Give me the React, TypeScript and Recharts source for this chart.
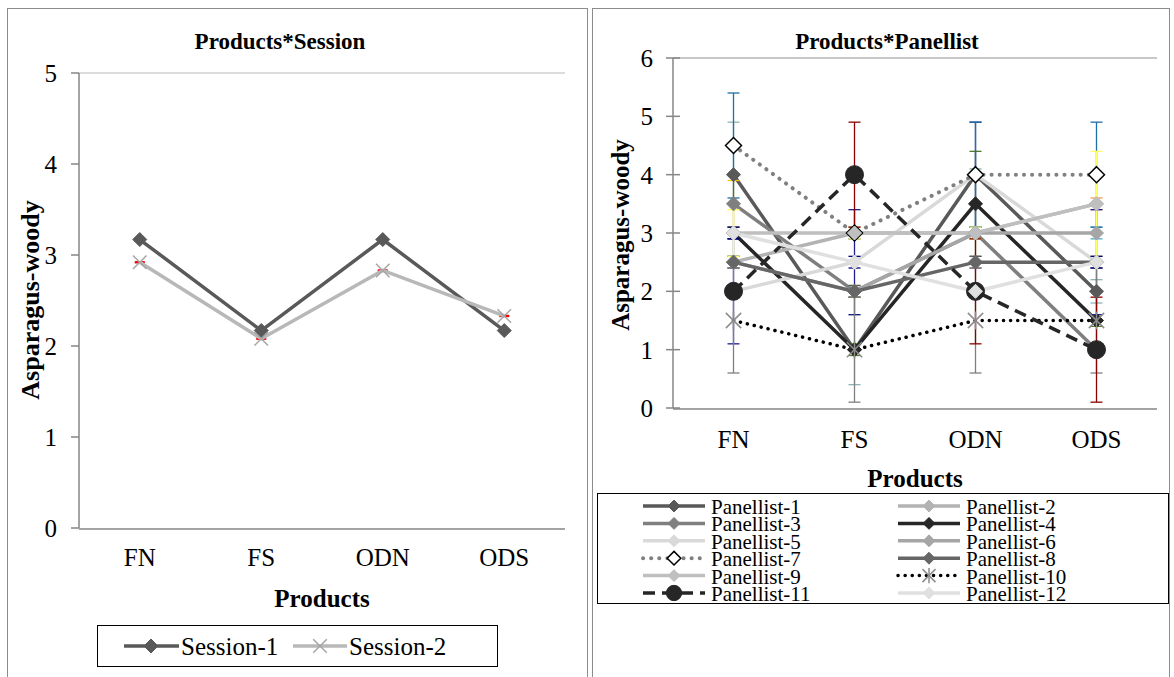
import React from "react";
import { LineChart, Line, XAxis, YAxis, ErrorBar, ReferenceLine } from "recharts";

const FONT = '"Liberation Serif", "Times New Roman", serif';

// categories
const products = ["FN", "FS", "ODN", "ODS"];

// Products*Session
const session1 = [3.17, 2.17, 3.17, 2.17];
const session2 = [2.92, 2.08, 2.83, 2.33];
const session2Err = [0.005, 0.005, 0.005, 0.005];
const sessionTicks = [0, 1, 2, 3, 4, 5];

// Products*Panellist (FN, FS, ODN, ODS)
const panellist1 = [4, 1, 4, 2];
const panellist2 = [2.5, 3, 3, 3.5];
const panellist3 = [3.5, 2, 3, 1];
const panellist4 = [3, 1, 3.5, 1.5];
const panellist5 = [2, 2.5, 4, 2.5];
const panellist6 = [2.5, 2, 3, 3];
const panellist7 = [4.5, 3, 4, 4];
const panellist8 = [2.5, 2, 2.5, 2.5];
const panellist9 = [3, 3, 3, 3.5];
const panellist10 = [1.5, 1, 1.5, 1.5];
const panellist11 = [2, 4, 2, 1];
const panellist12 = [3, 2.5, 2, 2.5];

// error bar half-lengths
const err1 = [0.9, 0.6, 0.1, 0.2];
const err2 = [0.1, 0.1, 0.1, 0.1];
const err3 = [0.4, 0.1, 0.1, 0.1];
const err4 = [0.1, 0.1, 0.9, 0.1];
const err5 = [0.9, 0.9, 0.9, 0.9];
const err6 = [0.1, 0.1, 0.1, 0.1];
const err7 = [0.9, 0.1, 0.9, 0.9];
const err8 = [0.1, 0.1, 0.1, 0.1];
const err9 = [0.4, 0.1, 0.1, 0.9];
const err10 = [0.9, 0.9, 0.9, 0.9];
const err11 = [0.1, 0.9, 0.9, 0.9];
const err12 = [0.1, 0.1, 0.1, 0.1];
const panelTicks = [0, 1, 2, 3, 4, 5, 6];

const panelValues = [
  panellist1, panellist2, panellist3, panellist4, panellist5, panellist6,
  panellist7, panellist8, panellist9, panellist10, panellist11, panellist12,
];
const panelErrors = [err1, err2, err3, err4, err5, err6, err7, err8, err9, err10, err11, err12];

const sessionData = products.map((p, i) => ({
  product: p,
  s1: session1[i],
  s2: session2[i],
  s2e: session2Err[i],
}));

const panelData = products.map((p, i) => {
  const row: any = { product: p };
  panelValues.forEach((vals, k) => {
    row[`p${k + 1}`] = vals[i];
    row[`e${k + 1}`] = panelErrors[k][i];
  });
  return row;
});

type Style = {
  name: string;
  color: string;
  width: number;
  dash?: string;
  cap?: "round" | "butt";
  marker: string;
  mFill: string;
  mStroke: string;
  size: number;
  err: string;
};

const panelStyles: Style[] = [
  { name: "Panellist-1", color: "#595959", width: 3.5, marker: "diamond", mFill: "#595959", mStroke: "#595959", size: 7, err: "#8db3b3" },
  { name: "Panellist-2", color: "#b3b3b3", width: 3.5, marker: "diamond", mFill: "#b3b3b3", mStroke: "#b3b3b3", size: 7, err: "#f79646" },
  { name: "Panellist-3", color: "#7f7f7f", width: 3.5, marker: "diamond", mFill: "#7f7f7f", mStroke: "#7f7f7f", size: 7, err: "#ffc000" },
  { name: "Panellist-4", color: "#262626", width: 3.5, marker: "diamond", mFill: "#262626", mStroke: "#262626", size: 7, err: "#4f7a28" },
  { name: "Panellist-5", color: "#d9d9d9", width: 3.5, marker: "diamond", mFill: "#d9d9d9", mStroke: "#d9d9d9", size: 7, err: "#1f1f8f" },
  { name: "Panellist-6", color: "#a6a6a6", width: 3.5, marker: "diamond", mFill: "#a6a6a6", mStroke: "#a6a6a6", size: 7, err: "#4bacc6" },
  { name: "Panellist-7", color: "#808080", width: 4, dash: "0.1 8", cap: "round", marker: "open", mFill: "#ffffff", mStroke: "#000000", size: 8, err: "#1f6fa8" },
  { name: "Panellist-8", color: "#666666", width: 3.5, marker: "diamond", mFill: "#666666", mStroke: "#666666", size: 7, err: "#595959" },
  { name: "Panellist-9", color: "#bfbfbf", width: 3.5, marker: "diamond", mFill: "#bfbfbf", mStroke: "#bfbfbf", size: 7, err: "#ffff66" },
  { name: "Panellist-10", color: "#000000", width: 3.5, dash: "0.1 7", cap: "round", marker: "star", mFill: "none", mStroke: "#8c8c8c", size: 9, err: "#7f7f7f" },
  { name: "Panellist-11", color: "#262626", width: 3.5, dash: "12 7", marker: "circle", mFill: "#262626", mStroke: "#262626", size: 9, err: "#8b0000" },
  { name: "Panellist-12", color: "#e0e0e0", width: 3.5, marker: "diamond", mFill: "#e0e0e0", mStroke: "#e0e0e0", size: 7, err: "#000080" },
];

const Marker = ({ kind, x, y, fill, stroke, size }: any) => {
  if (kind === "diamond" || kind === "open") {
    return (
      <path
        d={`M${x},${y - size}L${x + size},${y}L${x},${y + size}L${x - size},${y}Z`}
        fill={fill}
        stroke={stroke}
        strokeWidth={kind === "open" ? 1.5 : 1}
      />
    );
  }
  if (kind === "circle") {
    return <circle cx={x} cy={y} r={size} fill={fill} stroke={stroke} />;
  }
  const s = size * 0.85;
  return (
    <g stroke={stroke} strokeWidth={1.5}>
      <line x1={x - s} y1={y - s} x2={x + s} y2={y + s} />
      <line x1={x - s} y1={y + s} x2={x + s} y2={y - s} />
      {kind === "star" && <line x1={x} y1={y - size} x2={x} y2={y + size} />}
    </g>
  );
};

const dotRenderer = (kind: string, fill: string, stroke: string, size: number) => (props: any) => {
  const { cx, cy, index } = props;
  const key = `m-${kind}-${index}`;
  if (cx == null || cy == null) return <g key={key} />;
  return (
    <g key={key}>
      <Marker kind={kind} x={cx} y={cy} fill={fill} stroke={stroke} size={size} />
    </g>
  );
};

const tickStyle = { fill: "#000", fontSize: 25, fontFamily: FONT };
const axisGray = { stroke: "#868686", strokeWidth: 1.5 };
const textStyle = { fontFamily: FONT };

const App = () => {
  return (
    <div style={{ position: "absolute", left: 0, top: 0, width: 1174, height: 677, background: "#fff", overflow: "hidden", fontFamily: FONT }}>
      {/* left chart */}
      <div style={{ position: "absolute", left: 0, top: 0 }}>
        <LineChart width={590} height={677} data={sessionData} margin={{ top: 73, right: 25, left: 0, bottom: 147 }}>
          <XAxis
            xAxisId="b"
            type="number"
            domain={[0, 4]}
            ticks={[0, 1, 2, 3, 4]}
            allowDataOverflow
            tick={false}
            height={1}
            tickSize={16}
            axisLine={axisGray}
            tickLine={{ ...axisGray, transform: "translate(0,-8)" }}
          />
          <XAxis
            dataKey="product"
            height={1}
            axisLine={false}
            tickLine={false}
            tickSize={0}
            tickMargin={20}
            interval={0}
            padding={{ left: 60.75, right: 60.75 }}
            tick={tickStyle}
          />
          <YAxis
            domain={[0, 5]}
            ticks={sessionTicks}
            width={79}
            tickSize={8}
            tickMargin={14}
            axisLine={axisGray}
            tickLine={axisGray}
            tick={tickStyle}
          />
          <ReferenceLine y={5} stroke="#d0d0d0" strokeWidth={1.5} />
          <ReferenceLine x={4} xAxisId="b" stroke="#d0d0d0" strokeWidth={1.5} />
          <Line
            dataKey="s1"
            stroke="#595959"
            strokeWidth={3.5}
            isAnimationActive={false}
            dot={dotRenderer("diamond", "#595959", "#595959", 7)}
          />
          <Line
            dataKey="s2"
            stroke="#b8b8b8"
            strokeWidth={3.5}
            isAnimationActive={false}
            dot={dotRenderer("x", "none", "#a6a6a6", 8)}
          >
            <ErrorBar dataKey="s2e" width={5} stroke="#ff0000" strokeWidth={1.5} direction="y" />
          </Line>
        </LineChart>
      </div>

      {/* right chart */}
      <div style={{ position: "absolute", left: 590, top: 0 }}>
        <LineChart width={584} height={677} data={panelData} margin={{ top: 58, right: 17, left: 0, bottom: 267 }}>
          <XAxis
            xAxisId="b"
            type="number"
            domain={[0, 4]}
            ticks={[0, 1, 2, 3, 4]}
            allowDataOverflow
            tick={false}
            height={1}
            tickSize={14}
            axisLine={axisGray}
            tickLine={{ ...axisGray, transform: "translate(0,-7)" }}
          />
          <XAxis
            dataKey="product"
            height={1}
            axisLine={false}
            tickLine={false}
            tickSize={0}
            tickMargin={22}
            interval={0}
            padding={{ left: 60.5, right: 60.5 }}
            tick={tickStyle}
          />
          <YAxis
            domain={[0, 6]}
            ticks={panelTicks}
            width={83}
            tickSize={14}
            tickMargin={6}
            axisLine={axisGray}
            tickLine={{ ...axisGray, transform: "translate(7,0)" }}
            tick={tickStyle}
          />
          <ReferenceLine y={6} stroke="#c8c8c8" strokeWidth={2} />
          <ReferenceLine x={4} xAxisId="b" stroke="#c8c8c8" strokeWidth={2} />
          {panelStyles.map((s, k) => (
            <Line
              key={s.name}
              dataKey={`p${k + 1}`}
              name={s.name}
              stroke={s.color}
              strokeWidth={s.width}
              strokeDasharray={s.dash}
              strokeLinecap={s.cap || "butt"}
              isAnimationActive={false}
              dot={dotRenderer(s.marker, s.mFill, s.mStroke, s.size)}
            >
              <ErrorBar dataKey={`e${k + 1}`} width={6} stroke={s.err} strokeWidth={1.3} direction="y" />
            </Line>
          ))}
        </LineChart>
      </div>

      {/* frames, titles and legends */}
      <svg width={1174} height={677} style={{ position: "absolute", left: 0, top: 0, pointerEvents: "none", fontFamily: FONT }}>
        <rect x={7.5} y={8.5} width={580} height={700} fill="none" stroke="#8c8c8c" strokeWidth={1} />
        <rect x={592.5} y={8.5} width={577} height={700} fill="none" stroke="#8c8c8c" strokeWidth={1} />

        <text x={280} y={49} textAnchor="middle" fontSize={23} fontWeight="bold" style={textStyle}>Products*Session</text>
        <text x={30} y={300} textAnchor="middle" dominantBaseline="central" fontSize={26} fontWeight="bold" transform="rotate(-90 30 300)" style={textStyle}>Asparagus-woody</text>
        <text x={322} y={607} textAnchor="middle" fontSize={25} fontWeight="bold" style={textStyle}>Products</text>

        <text x={887} y={49} textAnchor="middle" fontSize={23} fontWeight="bold" style={textStyle}>Products*Panellist</text>
        <text x={620} y={235} textAnchor="middle" dominantBaseline="central" fontSize={25} fontWeight="bold" transform="rotate(-90 620 235)" style={textStyle}>Asparagus-woody</text>
        <text x={915} y={487} textAnchor="middle" fontSize={25} fontWeight="bold" style={textStyle}>Products</text>

        {/* left legend */}
        <rect x={97.5} y={625.5} width={400} height={41} fill="#fff" stroke="#000" strokeWidth={1} />
        <line x1={124} y1={646} x2={179} y2={646} stroke="#595959" strokeWidth={3.5} />
        <Marker kind="diamond" x={151} y={646} fill="#595959" stroke="#595959" size={7} />
        <text x={181} y={646} dominantBaseline="central" fontSize={25} style={textStyle}>Session-1</text>
        <line x1={293} y1={646} x2={347} y2={646} stroke="#b8b8b8" strokeWidth={3.5} />
        <Marker kind="x" x={320} y={646} fill="none" stroke="#a6a6a6" size={8} />
        <text x={349} y={646} dominantBaseline="central" fontSize={25} style={textStyle}>Session-2</text>

        {/* right legend */}
        <rect x={597.5} y={493.5} width={571} height={110} fill="#fff" stroke="#000" strokeWidth={1} />
        {panelStyles.map((s, k) => {
          const col = k % 2;
          const row = Math.floor(k / 2);
          const x0 = col === 0 ? 643 : 898;
          const y = 506 + row * 17.4;
          return (
            <g key={s.name}>
              <line
                x1={x0}
                y1={y}
                x2={x0 + 62}
                y2={y}
                stroke={s.color}
                strokeWidth={s.width}
                strokeDasharray={s.dash}
                strokeLinecap={s.cap || "butt"}
              />
              <Marker kind={s.marker} x={x0 + 31} y={y} fill={s.mFill} stroke={s.mStroke} size={s.size * 0.85} />
              <text x={x0 + 68} y={y + 1} dominantBaseline="central" fontSize={21} style={textStyle}>{s.name}</text>
            </g>
          );
        })}
      </svg>
    </div>
  );
};

export default App;
